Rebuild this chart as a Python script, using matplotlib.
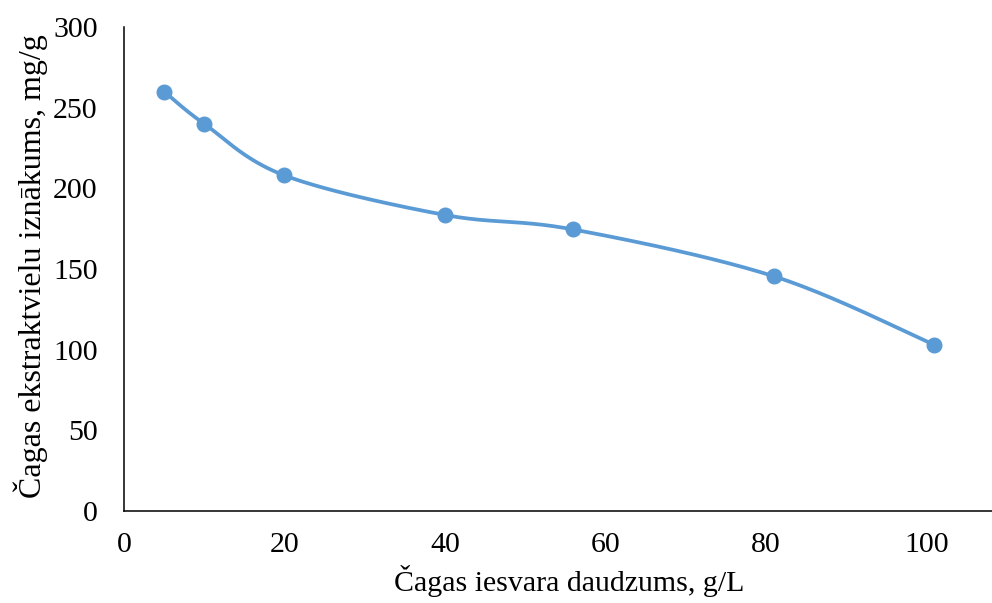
import numpy as np
import matplotlib
matplotlib.use("Agg")
import matplotlib.pyplot as plt

# Data
x_vals = [5, 10, 20, 40, 56, 81, 101]
y_vals = [260, 240, 208, 183.5, 174.5, 145.5, 103]
x_ticks = [0, 20, 40, 60, 80, 100]
y_ticks = [0, 50, 100, 150, 200, 250, 300]
x_label = "Čagas iesvara daudzums, g/L"
y_label = "Čagas ekstraktvielu iznākums, mg/g"

color = "#5B9BD5"

def catmull_rom(xs, ys, n=40):
    P = np.column_stack([xs, ys]).astype(float)
    Pext = np.vstack([P[0], P, P[-1]])
    out = []
    for i in range(1, len(Pext) - 2):
        p0, p1, p2, p3 = Pext[i - 1], Pext[i], Pext[i + 1], Pext[i + 2]
        c1 = p1 + (p2 - p0) / 6.0
        c2 = p2 - (p3 - p1) / 6.0
        t = np.linspace(0, 1, n)[:, None]
        seg = ((1 - t) ** 3) * p1 + 3 * ((1 - t) ** 2) * t * c1 + 3 * (1 - t) * t ** 2 * c2 + t ** 3 * p2
        out.append(seg if i == 1 else seg[1:])
    return np.vstack(out)

plt.rcParams['font.family'] = ['Liberation Serif', 'DejaVu Serif']

fig = plt.figure(figsize=(9.92, 6.03), dpi=100)
W, H = 992, 603
left, right, top, bottom = 124, 992, 27, 511
ax = fig.add_axes([left / W, 1 - bottom / H, (right - left) / W, (bottom - top) / H])

curve = catmull_rom(x_vals, y_vals)
ax.plot(curve[:, 0], curve[:, 1], color=color, lw=2.7, solid_capstyle='round', zorder=2)
ax.plot(x_vals, y_vals, 'o', color=color, markersize=10.5, zorder=3)

ax.set_xlim(0, 108.2)
ax.set_ylim(0, 300)
ax.set_xticks(x_ticks)
ax.set_yticks(y_ticks)
ax.tick_params(axis='both', length=0, labelsize=21.5)
ax.tick_params(axis='x', pad=15)
ax.tick_params(axis='y', pad=19)
for s in ['top', 'right']:
    ax.spines[s].set_visible(False)
for s in ['left', 'bottom']:
    ax.spines[s].set_linewidth(1.1)
    ax.spines[s].set_color('black')

fig.text(569 / W, 1 - 581 / H, x_label, ha='center', va='center', fontsize=21.5)
fig.text(31 / W, 1 - 266 / H, y_label, ha='center', va='center', rotation=90, fontsize=23)

fig.savefig("out.png", dpi=100)
